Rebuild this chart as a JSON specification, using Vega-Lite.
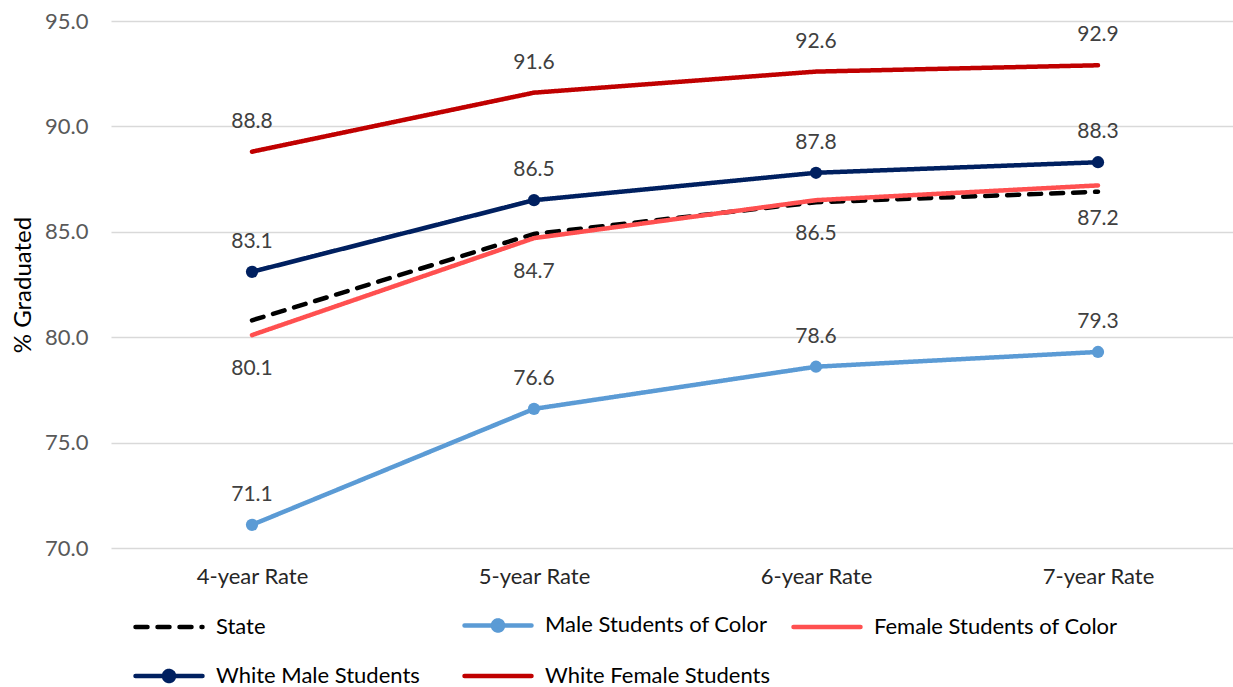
{
  "$schema": "https://vega.github.io/schema/vega-lite/v6.json",
  "width": 1128,
  "height": 527,
  "autosize": {"type": "none"},
  "padding": {"left": 111, "top": 21, "right": 0, "bottom": 145},
  "background": "white",
  "config": {"view": {"stroke": null}, "font": "Lato"},
  "data": {
    "values": [
      {"series": "State", "rate": "4-year Rate", "value": 80.8},
      {"series": "State", "rate": "5-year Rate", "value": 84.9},
      {"series": "State", "rate": "6-year Rate", "value": 86.4},
      {"series": "State", "rate": "7-year Rate", "value": 86.9},
      {"series": "Male Students of Color", "rate": "4-year Rate", "value": 71.1},
      {"series": "Male Students of Color", "rate": "5-year Rate", "value": 76.6},
      {"series": "Male Students of Color", "rate": "6-year Rate", "value": 78.6},
      {"series": "Male Students of Color", "rate": "7-year Rate", "value": 79.3},
      {"series": "Female Students of Color", "rate": "4-year Rate", "value": 80.1},
      {"series": "Female Students of Color", "rate": "5-year Rate", "value": 84.7},
      {"series": "Female Students of Color", "rate": "6-year Rate", "value": 86.5},
      {"series": "Female Students of Color", "rate": "7-year Rate", "value": 87.2},
      {"series": "White Male Students", "rate": "4-year Rate", "value": 83.1},
      {"series": "White Male Students", "rate": "5-year Rate", "value": 86.5},
      {"series": "White Male Students", "rate": "6-year Rate", "value": 87.8},
      {"series": "White Male Students", "rate": "7-year Rate", "value": 88.3},
      {"series": "White Female Students", "rate": "4-year Rate", "value": 88.8},
      {"series": "White Female Students", "rate": "5-year Rate", "value": 91.6},
      {"series": "White Female Students", "rate": "6-year Rate", "value": 92.6},
      {"series": "White Female Students", "rate": "7-year Rate", "value": 92.9}
    ]
  },
  "encoding": {
    "x": {
      "field": "rate",
      "type": "nominal",
      "sort": ["4-year Rate", "5-year Rate", "6-year Rate", "7-year Rate"],
      "scale": {"type": "point", "padding": 0.5},
      "axis": {
        "title": null,
        "domain": false,
        "ticks": false,
        "grid": false,
        "labelAngle": 0,
        "labelFontSize": 22,
        "labelColor": "#262626",
        "labelPadding": 18
      }
    },
    "y": {
      "field": "value",
      "type": "quantitative",
      "scale": {"domain": [70, 95], "nice": false, "zero": false},
      "axis": {
        "title": "% Graduated",
        "titleFontSize": 24,
        "titleFontWeight": "normal",
        "titleColor": "#000000",
        "titleX": -88,
        "titleBaseline": "middle",
        "values": [70, 75, 80, 85, 90, 95],
        "format": ".1f",
        "domain": false,
        "ticks": false,
        "grid": true,
        "gridColor": "#d9d9d9",
        "gridWidth": 1.5,
        "labelFontSize": 22,
        "labelColor": "#595959",
        "labelPadding": 23
      }
    }
  },
  "layer": [
    {
      "mark": {"type": "line", "strokeWidth": 4.5, "strokeCap": "round"},
      "encoding": {
        "color": {
          "field": "series",
          "type": "nominal",
          "sort": ["State", "Male Students of Color", "Female Students of Color", "White Male Students", "White Female Students"],
          "scale": {
            "domain": ["State", "Male Students of Color", "Female Students of Color", "White Male Students", "White Female Students"],
            "range": ["#000000", "#5b9bd5", "#ff5050", "#002060", "#c00000"]
          },
          "legend": {
            "title": null,
            "orient": "none",
            "direction": "horizontal",
            "legendX": 22,
            "legendY": 568,
            "columns": 3,
            "gridAlign": "all",
            "columnPadding": -5,
            "rowPadding": -27,
            "symbolSize": 4489,
            "symbolStrokeWidth": 4.5,
            "labelFontSize": 22,
            "labelColor": "#000000",
            "labelOffset": 11,
            "labelLimit": 400,
            "encode": {
              "symbols": {
                "update": {
                  "shape": {"signal": "datum.value === 'Male Students of Color' || datum.value === 'White Male Students' ? 'M-1,0H1M-0.15,0A0.15,0.15 0 1,0 0.15,0A0.15,0.15 0 1,0 -0.15,0Z' : 'M-1,0H1'"},
                  "fill": {"signal": "datum.value === 'Male Students of Color' ? '#5b9bd5' : datum.value === 'White Male Students' ? '#002060' : 'transparent'"},
                  "strokeCap": {"value": "round"}
                }
              }
            }
          }
        },
        "strokeDash": {
          "field": "series",
          "type": "nominal",
          "scale": {
            "domain": ["State", "Male Students of Color", "Female Students of Color", "White Male Students", "White Female Students"],
            "range": [[12, 10], [1, 0], [1, 0], [1, 0], [1, 0]]
          },
          "legend": null
        }
      }
    },
    {
      "transform": [{"filter": "datum.series === 'Male Students of Color' || datum.series === 'White Male Students'"}],
      "mark": {"type": "point", "filled": true, "size": 150, "opacity": 1},
      "encoding": {
        "color": {"field": "series", "type": "nominal", "legend": null}
      }
    },
    {
      "transform": [{"filter": "datum.series !== 'State' && datum.series !== 'Female Students of Color'"}],
      "mark": {"type": "text", "dy": -30, "fontSize": 21, "color": "#404040"},
      "encoding": {
        "text": {"field": "value", "type": "quantitative", "format": ".1f"}
      }
    },
    {
      "transform": [{"filter": "datum.series === 'Female Students of Color'"}],
      "mark": {"type": "text", "dy": 34, "fontSize": 21, "color": "#404040"},
      "encoding": {
        "text": {"field": "value", "type": "quantitative", "format": ".1f"}
      }
    }
  ]
}
